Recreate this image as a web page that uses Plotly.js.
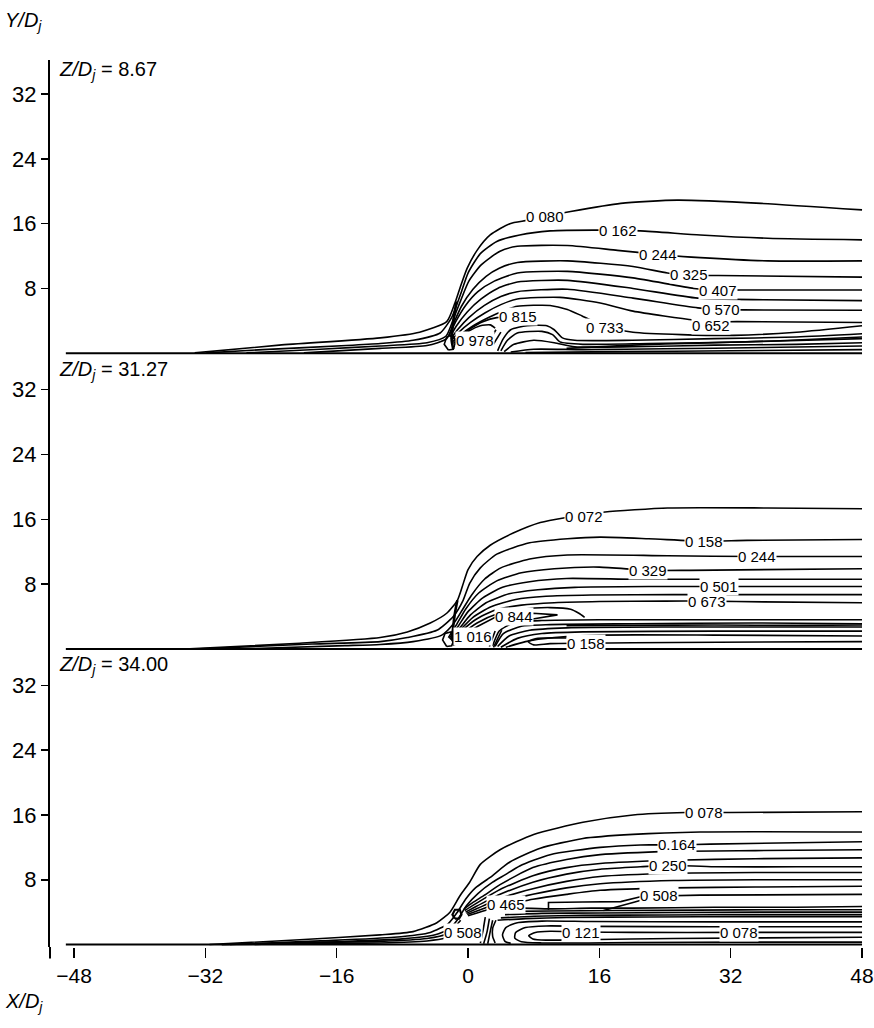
<!DOCTYPE html>
<html>
<head>
<meta charset="utf-8">
<script src="https://cdn.plot.ly/plotly-3.0.1.min.js"></script>
<style>html,body{margin:0;padding:0;background:#fff}</style>
</head>
<body>
<div id="chart" style="width:874px;height:1028px"></div>
<script>
// Jet-in-crossflow contour lines, three Z/Dj stations, points as [X/Dj, Y/Dj]

// ---------- Z/Dj = 8.67 ----------
const z1_c080 = [[-33.3,0.05],[-23,1.0],[-10.7,1.9],[-5.9,2.6],[-2.6,3.9],[-1.6,6.2],[-1.0,8.0],[-0.1,10.5],[1.1,12.7],[2.7,14.6],[5.1,16.0],[7.2,16.4],[9.4,16.9],[12.5,17.5],[18.6,18.5],[25.5,18.9],[35.7,18.5],[48,17.7]];
const z1_c162 = [[-31.9,0.05],[-25,0.45],[-14.8,0.95],[-10.7,1.2],[-6.7,1.6],[-3.4,2.5],[-2.0,4.4],[-1.3,6.2],[-0.8,7.6],[0,9.9],[1.5,12.3],[3.5,13.8],[6.3,14.6],[10,15.1],[16.1,15.2],[21,15.1],[28.3,14.6],[36.5,14.2],[48,14.0]];
const z1_c244 = [[-27,0.05],[-18,0.5],[-10.7,0.9],[-5,1.3],[-2.7,2.1],[-1.8,4.2],[-0.9,6.5],[0.1,8.9],[1.6,10.9],[3.9,12.6],[6.0,13.2],[12.1,13.3],[18.2,12.7],[23.2,12.2],[28.3,11.8],[36.5,11.4],[48,11.4]];
const z1_c325 = [[-20,0.05],[-10.7,0.6],[-5,0.95],[-2.6,1.8],[-1.8,3.6],[-0.8,5.8],[0.6,7.9],[2.2,9.5],[3.8,10.5],[6.0,11.2],[12.1,11.4],[20.1,10.7],[24.3,9.9],[26.9,9.6],[30.5,9.6],[48,9.4]];
const z1_c407 = [[-2.3,2.2],[-1.5,3.9],[-0.3,5.9],[1.2,7.6],[3.2,8.9],[6.0,9.9],[12.1,10.1],[20.1,9.3],[27.5,8.0],[30.4,7.8],[33.2,7.8],[48,7.8]];
const z1_c489 = [[-2.2,2.0],[-1.4,3.4],[-0.1,5.1],[1.6,6.7],[3.6,8.0],[6.0,8.8],[12.1,9.0],[20.1,8.0],[28,6.8],[36,6.6],[48,6.5]];
const z1_c570 = [[-2.1,1.8],[-1.2,3.0],[0.1,4.4],[2.0,5.9],[4.0,7.0],[6.0,7.6],[12.1,7.9],[20.1,6.8],[28,5.6],[30.8,5.4],[33.6,5.35],[48,5.3]];
const z1_c652 = [[-2.0,1.6],[-1.1,2.6],[0.3,3.8],[2.1,5.0],[4.0,6.0],[6.0,6.7],[11.2,6.9],[16.1,6.2],[20.1,5.2],[27.5,4.1],[29.9,3.9],[32.8,3.9],[48,3.8]];
const z1_c733 = [[-1.9,1.4],[-0.9,2.3],[0.5,3.3],[2.5,4.4],[4.5,5.3],[6.0,5.8],[10,5.9],[12.1,5.4],[13.9,4.6],[16.7,3.3],[20.1,2.6],[26,2.3],[32.4,2.2],[40,2.6],[48,3.4]];
const z1_c815 = [[-1.8,1.2],[-0.9,2.1],[0.4,3.1],[1.8,3.9],[3.5,4.4],[6.1,4.45],[8.3,4.45]];
const z1_c896 = [[-1.7,1.0],[-0.9,1.9],[0.2,2.8],[1.5,3.4],[2.7,3.5],[3.3,3.1]];
const z1_c978 = [[-2.4,0.4],[-2.9,1.1],[-2.6,2.0],[-1.9,2.3],[-1.5,1.4],[-1.8,0.5],[-2.4,0.4]];
const z1_core = [[-1.4,6.4],[-1.7,4.6],[-1.9,3.0],[-2.0,1.6],[-1.8,0.5]];
const z1_slashA = [[2.4,1.2],[3.4,2.9]];
const z1_slashB = [[2.9,0.8],[4.0,2.6]];
const z1_wall1 = [[3.6,0.3],[4.3,1.8],[5.2,2.9],[7.2,3.4],[9.6,3.4],[10.5,2.9],[11.5,1.9],[13,1.6],[20,1.6],[30,1.8],[40,2.0],[48,2.4]];
const z1_wall2 = [[4.0,0.3],[4.8,1.6],[6,2.5],[9,2.7],[10.3,2.3],[11.2,1.4],[14,1.1],[22,1.2],[34,1.4],[48,1.8]];
const z1_wall3 = [[4.4,0.2],[5.6,1.1],[8,1.6],[10.5,1.3],[13,0.8],[20,0.8],[30,1.0],[40,1.1],[48,1.3]];
const z1_wall4 = [[5.2,0.15],[8,0.5],[14,0.45],[24,0.55],[36,0.7],[48,0.9]];
const z1_wall5 = [[7,0.1],[18,0.2],[32,0.3],[48,0.45]];
const z1_wall6 = [[12,0.6],[20,1.0],[28,1.25],[38,1.55],[48,2.0]];
const z1_labels = ['0 080','0 162','0 244','0 325','0 407','0 570','0 652','0 733','0 815','0 978'];
const z1_labelX = [9.4, 18.3, 23.2, 26.9, 30.4, 30.8, 29.6, 16.7, 6.1, 0.8];
const z1_labelY = [16.9, 15.2, 12.2, 9.7, 7.8, 5.4, 3.4, 3.2, 4.5, 1.6];

// ---------- Z/Dj = 31.27 ----------
const z2_c072 = [[-33.9,0.0],[-20.5,0.7],[-10.7,1.4],[-7.4,2.1],[-4.6,3.2],[-2.6,4.4],[-1.3,6.0],[-0.7,7.7],[0,9.8],[1.1,11.4],[2.7,12.8],[5.5,14.3],[8.8,15.6],[11.8,16.2],[14.0,16.5],[16.7,16.9],[24.3,17.4],[36.5,17.4],[48,17.3]];
const z2_c158 = [[-32.7,0.0],[-19,0.6],[-10.7,0.9],[-7.4,1.4],[-3.8,2.3],[-1.8,4.0],[-0.6,6.0],[0.2,8.1],[1.5,10.0],[3.5,11.7],[7.5,13.1],[12.1,13.6],[16.1,13.8],[22,13.6],[28.8,13.3],[34,13.4],[48,13.5]];
const z2_c244 = [[-28,0.0],[-15,0.4],[-10.7,0.55],[-6.7,0.9],[-3.2,1.7],[-1.7,3.2],[-0.7,4.8],[0.4,6.6],[2,8.6],[4,10.0],[7.5,11.1],[12.1,11.6],[24.3,11.5],[35.2,11.4],[48,11.4]];
const z2_c329 = [[-2.4,1.4],[-1.4,3.0],[-0.3,4.9],[1.3,6.9],[3.5,8.4],[6.5,9.4],[10.5,9.9],[16,10.1],[21.9,9.7],[27,9.7],[48,9.9]];
const z2_c415 = [[-2.3,1.3],[-1.2,2.8],[0,4.6],[1.8,6.3],[4.2,7.6],[7.5,8.3],[12,8.7],[20,8.6],[30,8.6],[48,8.6]];
const z2_c501 = [[-2.2,1.2],[-1.0,2.6],[0.3,4.2],[2.2,5.7],[5,6.8],[8.5,7.3],[13,7.6],[22,7.7],[30.6,7.7],[48,7.7]];
const z2_c587 = [[-2.1,1.1],[-0.9,2.4],[0.6,3.9],[2.8,5.2],[5.8,6.1],[9.5,6.5],[15,6.65],[25,6.7],[48,6.7]];
const z2_c673 = [[-2.0,1.0],[-0.8,2.2],[0.9,3.6],[3.3,4.8],[6.5,5.4],[10.5,5.7],[16,5.85],[24,5.9],[29.1,5.9],[36,5.8],[48,5.7]];
const z2_c758 = [[-1.9,0.9],[-0.7,1.9],[1.1,3.2],[3.5,4.3],[6.5,4.9],[10,5.1],[12.5,4.9],[13.5,4.4],[14.2,3.9]];
const z2_c844 = [[-1.8,0.8],[-0.6,1.7],[1.2,2.8],[3.3,3.9],[5.6,4.0],[7.9,4.4],[10.9,4.2],[7.9,3.7],[6.5,3.7]];
const z2_c1016 = [[-2.6,0.3],[-3.1,1.1],[-2.8,1.9],[-2.1,2.1],[-1.7,1.2],[-2.0,0.4],[-2.6,0.3]];
const z2_core = [[-1.3,6.0],[-1.6,4.4],[-1.8,2.8],[-1.9,1.4],[-1.7,0.4]];
const z2_slashA = [[2.6,0.3],[3.3,2.2]];
const z2_slashB = [[3.1,0.2],[4.1,2.3]];
const z2_wall1 = [[3.0,0.4],[3.8,2.2],[5.5,3.2],[9,3.5],[16,3.6],[30,3.6],[48,3.6]];
const z2_wall2 = [[3.3,0.3],[4.3,1.9],[6.5,2.8],[10,3.0],[20,3.1],[35,3.2],[48,3.1]];
const z2_wall3 = [[3.6,0.3],[5,1.6],[7.5,2.3],[12,2.6],[25,2.7],[48,2.7]];
const z2_wall4 = [[4.0,0.2],[6,1.3],[9,1.9],[14,2.1],[30,2.2],[48,2.2]];
const z2_wall5 = [[4.6,0.2],[7,0.9],[10.5,1.4],[16,1.7],[30,1.7],[48,1.6]];
const z2_wall6 = [[12,2.85],[20,2.9],[30,2.95],[40,2.9],[48,2.95]];
const z2_c158low = [[12,1.35],[8.5,1.3],[7.3,0.9],[8.0,0.5],[10,0.65],[14.4,0.7],[25,0.8],[48,0.9]];
const z2_labels = ['0 072','0 158','0 244','0 329','0 501','0 673','0 844','1 016','0 158'];
const z2_labelX = [14.1, 28.8, 35.2, 21.9, 30.6, 29.1, 5.6, 0.6, 14.4];
const z2_labelY = [16.4, 13.3, 11.4, 9.7, 7.7, 5.9, 4.0, 1.5, 0.7];

// ---------- Z/Dj = 34.00 ----------
const z3_c078 = [[-31.5,0.0],[-20.5,0.6],[-10.7,1.2],[-6.7,1.6],[-3.8,2.7],[-2.2,4.0],[-1.0,6.0],[0.2,7.7],[1.5,9.9],[3.9,11.7],[8.0,13.6],[14.0,15.1],[20.1,16.0],[26.5,16.3],[28.7,16.3],[31.9,16.3],[48,16.4]];
const z3_c121 = [[-29,0.0],[-18,0.45],[-9,0.9],[-4.6,1.5],[-2.4,2.6],[-1.3,4.0],[-0.3,5.6],[0.9,7.0],[2.7,8.3],[5.1,10.2],[8.8,11.9],[14.0,13.1],[20.1,13.6],[28.3,13.9],[48,13.9]];
const z3_c164 = [[-26,0.0],[-16,0.35],[-8,0.7],[-4,1.2],[-2.2,2.0],[-1.2,3.2],[-0.2,4.8],[1.2,6.3],[3.0,7.7],[4.5,8.6],[6.3,9.7],[10.0,11.1],[16.1,12.0],[21,12.3],[25.4,12.3],[29.5,12.4],[48,12.7]];
const z3_c207 = [[-0.5,4.4],[0.6,5.2],[2.0,6.1],[3.9,7.4],[7.9,9.5],[12,10.5],[16.1,11.1],[25,11.5],[35,11.6],[48,11.7]];
const z3_c229 = [[-0.4,4.2],[0.7,4.9],[2.0,5.7],[3.9,6.8],[7.9,8.5],[12,9.5],[16.1,10.0],[25,10.4],[35,10.6],[48,10.7]];
const z3_c250 = [[-0.3,4.0],[0.8,4.6],[2.1,5.3],[3.9,6.2],[7.9,7.7],[12,8.7],[16.1,9.3],[21,9.6],[24.3,9.8],[30,9.6],[40,9.6],[48,9.6]];
const z3_c336 = [[-0.2,3.85],[0.9,4.35],[2.2,4.95],[3.9,5.7],[7.9,6.9],[12,7.8],[16.1,8.4],[25,8.8],[35,8.9],[48,8.9]];
const z3_c379 = [[-0.1,3.7],[1.0,4.1],[2.3,4.6],[3.9,5.2],[7.9,6.2],[12,7.0],[16.1,7.5],[25,7.9],[35,8.0],[48,8.0]];
const z3_c465 = [[0,3.55],[1.1,3.9],[2.4,4.3],[3.9,4.8],[5.5,5.1],[7.9,5.6],[12,6.2],[16.1,6.7],[25,7.0],[35,7.1],[48,7.2]];
const z3_c508 = [[9.8,4.3],[9.8,5.2],[14,5.25],[18.6,5.3],[21,5.9],[23.3,6.0],[28.3,6.1],[48,6.2]];
const z3_c508b = [[16.5,4.2],[17.5,4.5],[20.1,5.2],[21.5,5.6]];
const z3_tailA = [[-30,0.0],[-20,0.25],[-10.7,0.4],[-5,0.75],[-2.6,1.3],[-1.6,2.2],[-0.9,3.0]];
const z3_tailB = [[-30,0.0],[-18,0.12],[-10.7,0.2],[-5,0.45],[-2.8,0.8],[-1.8,1.4],[-1.2,2.1]];
const z3_core = [[-1.6,3.2],[-1.9,3.7],[-1.6,4.3],[-1.0,4.3],[-0.8,3.7],[-1.1,3.2],[-1.6,3.2]];
const z3_band1 = [[6.5,4.5],[9.8,4.4],[15,4.5],[20,4.5],[30,4.6],[40,4.6],[48,4.7]];
const z3_band2 = [[5.5,4.1],[10,4.15],[18,4.2],[28,4.25],[38,4.3],[48,4.3]];
const z3_band3 = [[4.5,3.7],[9,3.85],[16,3.9],[26,3.95],[36,4.0],[48,4.0]];
const z3_band4 = [[4.0,3.3],[8,3.5],[14,3.6],[24,3.65],[36,3.7],[48,3.7]];
const z3_band5 = [[3.6,3.0],[7,3.2],[12,3.35],[22,3.4],[34,3.45],[48,3.45]];
const z3_loopOuter = [[48,2.8],[30,2.8],[15,2.85],[9,2.9],[6,2.7],[4.6,2.1],[4.2,1.2],[4.5,0.4],[5.2,0.15]];
const z3_loopMid = [[48,2.2],[30,2.2],[15,2.25],[9.5,2.3],[7,2.1],[5.8,1.5],[5.7,0.8],[6.5,0.35],[9,0.2],[20,0.25],[35,0.3],[48,0.3]];
const z3_loopInner = [[48,1.5],[33,1.5],[20,1.5],[13.8,1.55],[10,1.65],[8.2,1.5],[7.4,1.1],[7.9,0.7],[9.5,0.55],[14,0.6],[25,0.75],[48,0.9]];
const z3_hatchA = [[1.5,0.2],[1.8,1.6],[2.1,3.4]];
const z3_hatchB = [[1.9,0.1],[2.3,1.5],[2.6,3.2]];
const z3_hatchC = [[2.4,0.1],[2.7,1.6],[3.0,3.0]];
const z3_hatchD = [[3.4,3.0],[3.0,2.0],[3.0,1.0],[3.3,0.2]];
const z3_labels = ['0 078','0.164','0 250','0 508','0 465','0 508','0 121','0 078'];
const z3_labelX = [28.7, 25.4, 24.3, 23.3, 4.6, -0.6, 13.8, 33];
const z3_labelY = [16.3, 12.3, 9.8, 6.0, 4.9, 1.5, 1.55, 1.5];

// wall line at Y/Dj = 0 in every station
const wall = [[-49,0],[48,0]];

// axes
const xTicks = [-48, -32, -16, 0, 16, 32, 48];
const yTicks = [8, 16, 24, 32];
const stations = ['8.67', '31.27', '34.00'];

function contour(pts, axis, opts) {
  opts = opts || {};
  return {
    type: 'scatter', mode: 'lines',
    x: pts.map(p => p[0]), y: pts.map(p => p[1]),
    xaxis: 'x', yaxis: axis,
    line: {color: '#000', width: opts.w || 1.6,
           shape: opts.linear ? 'linear' : 'spline', smoothing: 0.6},
    hoverinfo: 'skip', showlegend: false
  };
}

const traces = [];
[z1_c080, z1_c162, z1_c244, z1_c325, z1_c407, z1_c489, z1_c570, z1_c652, z1_c733,
 z1_c815, z1_c896, z1_wall1, z1_wall2, z1_wall3, z1_wall4, z1_wall5, z1_wall6]
  .forEach(l => traces.push(contour(l, 'y')));
[z1_c978, z1_slashA, z1_slashB].forEach(l => traces.push(contour(l, 'y', {linear: true})));
traces.push(contour(z1_core, 'y', {w: 2.6}));
traces.push(contour(wall, 'y', {w: 2, linear: true}));

[z2_c072, z2_c158, z2_c244, z2_c329, z2_c415, z2_c501, z2_c587, z2_c673, z2_c758,
 z2_wall1, z2_wall2, z2_wall3, z2_wall4, z2_wall5, z2_wall6, z2_c158low]
  .forEach(l => traces.push(contour(l, 'y2')));
[z2_c844, z2_c1016, z2_slashA, z2_slashB].forEach(l => traces.push(contour(l, 'y2', {linear: true})));
traces.push(contour(z2_core, 'y2', {w: 2.6}));
traces.push(contour(wall, 'y2', {w: 2, linear: true}));

[z3_c078, z3_c121, z3_c164, z3_c207, z3_c229, z3_c250, z3_c336, z3_c379, z3_c465,
 z3_tailA, z3_tailB, z3_band1, z3_band2, z3_band3, z3_band4, z3_band5,
 z3_loopOuter, z3_loopMid, z3_loopInner, z3_hatchA, z3_hatchB, z3_hatchC, z3_hatchD]
  .forEach(l => traces.push(contour(l, 'y3')));
[z3_c508, z3_c508b].forEach(l => traces.push(contour(l, 'y3', {linear: true})));
traces.push(contour(z3_core, 'y3', {w: 2.2, linear: true}));
traces.push(contour(wall, 'y3', {w: 2, linear: true}));

// contour value labels, drawn over their lines
const annotations = [];
function addLabels(texts, xs, ys, yref) {
  texts.forEach((t, i) => annotations.push({
    x: xs[i], y: ys[i], xref: 'x', yref: yref, text: t, showarrow: false,
    bgcolor: '#fff', borderpad: 0, font: {size: 15, color: '#000'}
  }));
}
addLabels(z1_labels, z1_labelX, z1_labelY, 'y');
addLabels(z2_labels, z2_labelX, z2_labelY, 'y2');
addLabels(z3_labels, z3_labelX, z3_labelY, 'y3');

// station captions
const captionY = [0.988, 0.650, 0.317];
stations.forEach((s, i) => annotations.push({
  xref: 'paper', yref: 'paper', x: 0.009, y: captionY[i], xanchor: 'left', yanchor: 'middle',
  text: '<i>Z/D<sub>j</sub></i> = ' + s, showarrow: false, font: {size: 20, color: '#000'}
}));
// axis names
annotations.push({xref: 'paper', yref: 'paper', x: -0.058, y: 1.043, xanchor: 'left', yanchor: 'middle',
  text: '<i>Y/D<sub>j</sub></i>', showarrow: false, font: {size: 20, color: '#000'}});
annotations.push({xref: 'paper', yref: 'paper', x: -0.058, y: -0.063, xanchor: 'left', yanchor: 'middle',
  text: '<i>X/D<sub>j</sub></i>', showarrow: false, font: {size: 20, color: '#000'}});

function yAxis(domain) {
  return {
    domain: domain, range: [-0.3, 36.2], anchor: 'x',
    tickvals: yTicks, ticks: 'outside', ticklen: 7, tickwidth: 1.5, tickcolor: '#000',
    showgrid: false, zeroline: false, showline: true, linecolor: '#000', linewidth: 2,
    tickfont: {size: 22, color: '#000'}
  };
}

const layout = {
  width: 874, height: 1028,
  margin: {l: 50, r: 10, t: 60, b: 81},
  paper_bgcolor: '#fff', plot_bgcolor: '#fff',
  font: {family: 'Liberation Sans, Arial, sans-serif', color: '#000'},
  showlegend: false,
  xaxis: {
    range: [-50.93, 48.24], anchor: 'y3',
    tickvals: xTicks, ticks: 'outside', ticklen: 10, tickwidth: 1.5, tickcolor: '#000',
    showgrid: false, zeroline: false, showline: false,
    tickfont: {size: 21, color: '#000'}
  },
  yaxis: yAxis([2/3, 1]),
  yaxis2: yAxis([1/3, 2/3]),
  yaxis3: yAxis([0, 1/3]),
  shapes: [{type: 'line', xref: 'paper', yref: 'paper', x0: 0, x1: 0, y0: -0.013, y1: 0,
            line: {color: '#000', width: 2}}],
  annotations: annotations
};

Plotly.newPlot('chart', traces, layout, {displayModeBar: false, staticPlot: true});
</script>
</body>
</html>
